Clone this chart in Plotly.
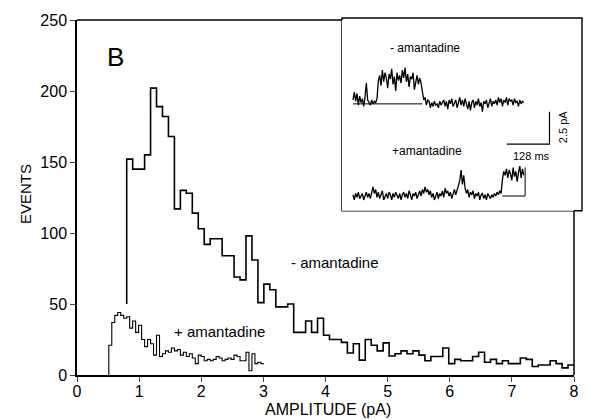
import numpy as np
import plotly.graph_objects as go

# ---------------- data ----------------
# "- amantadine" histogram (bins start at 0.8 pA, width 0.096 pA)
minus_bin_start = 0.8
minus_bin_width = 0.096
minus_start_level = 50
minus_counts = [152, 145, 145, 155, 202, 189, 182, 168, 117, 130,
                128, 114, 103, 92, 96, 96, 84, 84, 69, 67,
                98, 81, 51, 64, 60, 48, 48, 50, 30, 30,
                38, 30, 40, 28, 25, 25, 23, 15.5, 22, 10.5,
                25, 21, 17, 22.6, 13.4, 15, 17, 15, 17, 14,
                10, 13, 13, 19, 8, 11, 10, 10, 13, 16,
                9, 11, 8, 10, 8, 8, 12, 11, 6, 7,
                7, 10, 8, 5, 7]

# "+ amantadine" histogram (bins start at 0.512 pA, width 0.048 pA)
plus_bin_start = 0.512
plus_bin_width = 0.048
plus_counts = [21, 37, 42, 44, 42, 40, 41, 33, 38, 30,
               35, 25, 20, 25, 22, 14, 28, 13, 15, 17,
               16, 19, 17, 18, 14, 16, 13, 15, 12, 8,
               14, 13, 10, 11, 10, 11, 13, 12, 10, 11,
               12, 11, 14, 13, 10, 10, 16, 3, 15, 8,
               9, 8]

x_ticks = [0, 1, 2, 3, 4, 5, 6, 7, 8]
y_ticks = [0, 50, 100, 150, 200, 250]

# inset single-channel records (pA, sampled every 4 ms)
trace_dt_ms = 4
trace1_offset = 7.1
trace1_pA = [0.3, 0.9, 0.2, 0.8, -0.1, 0.6, 0.1, 0.4, -0.2, 0.5,
             1.6, 0.3, 0.1, -0.1, 0.3, 0.0, 0.2, 0.1, 0.4,
             1.8, 2.2, 1.4, 2.6, 1.7, 2.4, 2.0, 1.2, 2.3, 1.9,
             2.7, 1.5, 2.1, 1.0, 2.4, 1.8, 2.2, 1.6, 2.6, 2.0,
             2.8, 1.7, 2.3, 1.3, 2.1, 1.9, 2.4, 1.1, 1.8, 2.2,
             1.5, 2.0, 1.6,
             0.8, 0.3,
             0.5, -0.1, 0.3, 0.2, -0.3, 0.1, -0.2, 0.2, -0.1, 0.0,
             -0.3, 0.2, -0.1, 0.1, 0.3, -0.2, 0.2, -0.4, 0.3, 0.0,
             0.4, -0.2, 0.1, 0.3, -0.3, 0.2, 0.5, -0.1, 0.3, -0.2,
             0.4, 0.0, -0.4, 0.2, -0.5, 0.1, 0.3, -0.3, 0.2, -0.1,
             0.4, -0.2, 0.1, -0.6, 0.2, 0.0, 0.3, -0.3, 0.1, 0.4,
             -0.2, 0.2, 0.0, 0.3, -0.1, 0.5, 0.1, 0.4, -0.2, 0.3,
             0.1, 0.5, -0.1, 0.4, 0.2, 0.3, -0.1, 0.4, 0.1, 0.2,
             -0.2, 0.3, 0.0, 0.2, 0.1]
trace2_pA = [0.1, -0.3, 0.2, -0.1, 0.3, -0.2, 0.0, 0.2, -0.3, 0.1,
             0.3, -0.1, 0.2, -0.2, 0.4, 0.7, 0.2, 0.5, -0.1, 0.3,
             -0.2, 0.1, 0.4, -0.3, 0.0, 0.2, -0.2, 0.3, 0.1, -0.3,
             0.2, -0.1, 0.3, 0.0, -0.2, 0.2, -0.3, 0.1, 0.3, -0.1,
             0.2, -0.2, 0.4, 0.1, -0.3, 0.2, 0.0, 0.3, -0.2, 0.1,
             0.4, 0.0, 0.5, 0.2, 0.7, 0.3, 0.5, 0.1, 0.4, -0.1,
             0.2, -0.3, 0.1, 0.3, -0.2, 0.2, 0.0, 0.4, -0.1, 0.6,
             0.2, 0.4, 0.0, 0.3, -0.2, 0.2, 0.5, 0.1, 0.4, 0.8,
             1.2, 2.0, 0.9, 1.6, 0.6, 0.2, 0.5, -0.1, 0.3, 0.1,
             0.4, -0.2, 0.2, 0.0, 0.3, -0.3, 0.1, 0.2, -0.2, 0.1,
             -0.3, 0.2, 0.0, -0.2, 0.1, -0.1, 0.2, 0.0, 0.3, 0.1,
             0.4, 0.2,
             1.3, 1.9, 1.6, 2.1, 1.4, 2.0, 1.7, 1.2, 2.2, 1.5,
             1.9, 1.1, 1.8, 2.3, 1.4, 2.1, 1.6]
# idealized closed-level reference lines (ms, pA)
ideal1_t = [0, 208]
ideal1_i = [0, 0]
ideal2_t = [448, 516, 516]
ideal2_i = [0, 0, 2.2]
scalebar_t = [461, 589]      # 128 ms
scalebar_i = [4.0, 6.5]      # 2.5 pA

# ---------------- figure geometry (px) ----------------
W, H = 591, 420
L, R, T, B = 77, 574, 14, 375
pw, ph = R - L, B - T


def px(x):
    return (x - L) / pw


def py(y):
    return (B - y) / ph


FONT = "Liberation Sans, Arial, sans-serif"

fig = go.Figure()

# - amantadine histogram
edges_m = minus_bin_start + minus_bin_width * np.arange(len(minus_counts) + 1)
xm = [edges_m[0]] + list(edges_m)
ym = [minus_start_level] + list(minus_counts) + [minus_counts[-1]]
fig.add_trace(go.Scatter(x=xm, y=ym, mode="lines", line=dict(shape="hv", color="black", width=1.6),
                         showlegend=False, hoverinfo="skip"))

# + amantadine histogram
edges_p = plus_bin_start + plus_bin_width * np.arange(len(plus_counts) + 1)
xp = [edges_p[0]] + list(edges_p)
yp = [0] + list(plus_counts) + [plus_counts[-1]]
fig.add_trace(go.Scatter(x=xp, y=yp, mode="lines", line=dict(shape="hv", color="black", width=1.1),
                         showlegend=False, hoverinfo="skip"))

# inset traces
t1 = trace_dt_ms * np.arange(len(trace1_pA))
t2 = trace_dt_ms * np.arange(len(trace2_pA))
fig.add_trace(go.Scatter(x=ideal1_t, y=[v + trace1_offset for v in ideal1_i], mode="lines",
                         line=dict(color="black", width=1), xaxis="x2", yaxis="y2",
                         showlegend=False, hoverinfo="skip"))
fig.add_trace(go.Scatter(x=t1, y=[v + trace1_offset for v in trace1_pA], mode="lines",
                         line=dict(color="black", width=1.3), xaxis="x2", yaxis="y2",
                         showlegend=False, hoverinfo="skip"))
fig.add_trace(go.Scatter(x=ideal2_t, y=ideal2_i, mode="lines",
                         line=dict(color="black", width=1), xaxis="x2", yaxis="y2",
                         showlegend=False, hoverinfo="skip"))
fig.add_trace(go.Scatter(x=t2, y=trace2_pA, mode="lines",
                         line=dict(color="black", width=1.3), xaxis="x2", yaxis="y2",
                         showlegend=False, hoverinfo="skip"))
# scale bar
fig.add_trace(go.Scatter(x=[scalebar_t[0], scalebar_t[1], scalebar_t[1]],
                         y=[scalebar_i[0], scalebar_i[0], scalebar_i[1]], mode="lines",
                         line=dict(color="black", width=1.2), xaxis="x2", yaxis="y2",
                         showlegend=False, hoverinfo="skip"))

# inset axis ranges
ms_per_px = 128 / 42.7
pa_per_px = 2.5 / 33.0
x2_left = (342 - 353) * ms_per_px
x2_right = (574 - 353) * ms_per_px
y2_bot = (193 - 208) * pa_per_px
y2_top = (193 - 14) * pa_per_px

fig.update_layout(
    width=W, height=H,
    margin=dict(l=L, r=W - R, t=T, b=H - B),
    paper_bgcolor="white", plot_bgcolor="white",
    font=dict(family=FONT, color="black"),
    xaxis=dict(range=[0, 8], tickvals=x_ticks, ticks="outside", ticklen=5, tickwidth=1.2,
               ticklabelstandoff=-4,
               showline=True, linecolor="black", linewidth=1.5, showgrid=False, zeroline=False,
               tickfont=dict(size=16, family=FONT, color="black"), fixedrange=True),
    yaxis=dict(range=[0, 250], tickvals=y_ticks, ticks="outside", ticklen=5, tickwidth=1.2,
               showline=True, linecolor="black", linewidth=1.5, showgrid=False, zeroline=False,
               tickfont=dict(size=16, family=FONT, color="black"), fixedrange=True),
    xaxis2=dict(domain=[px(342), 1.0], range=[x2_left, x2_right], visible=False, anchor="y2"),
    yaxis2=dict(domain=[py(208), 1.0], range=[y2_bot, y2_top], visible=False, anchor="x2"),
    shapes=[
        dict(type="line", xref="paper", yref="paper", x0=0, x1=px(342), y0=1, y1=1,
             line=dict(color="black", width=1.5)),
        dict(type="line", xref="paper", yref="paper", x0=1, x1=1, y0=0, y1=py(208),
             line=dict(color="black", width=1.5)),
        dict(type="rect", xref="paper", yref="paper", x0=px(342), x1=px(582), y0=py(208), y1=py(12),
             line=dict(color="black", width=1.4), fillcolor="white", layer="below"),
    ],
)

ann = [
    dict(text="B", x=px(115), y=py(52), size=26),
    dict(text="- amantadine", x=px(335), y=py(261), size=15),
    dict(text="+ amantadine", x=px(219), y=py(331), size=15),
    dict(text="EVENTS", x=px(25), y=py(191), size=15, angle=-90),
    dict(text="AMPLITUDE (pA)", x=px(328), y=py(410), size=16),
    dict(text="- amantadine", x=px(425), y=py(42), size=12),
    dict(text="+amantadine", x=px(427), y=py(147), size=12),
    dict(text="128 ms", x=px(531), y=py(152), size=11),
    dict(text="2.5 pA", x=px(563), y=py(123), size=11, angle=-90),
]
for a in ann:
    fig.add_annotation(text=a["text"], x=a["x"], y=a["y"], xref="paper", yref="paper",
                       xanchor="center", yanchor="middle", showarrow=False,
                       textangle=a.get("angle", 0),
                       font=dict(size=a["size"], family=FONT, color="black"))

fig.write_html("out.html")
